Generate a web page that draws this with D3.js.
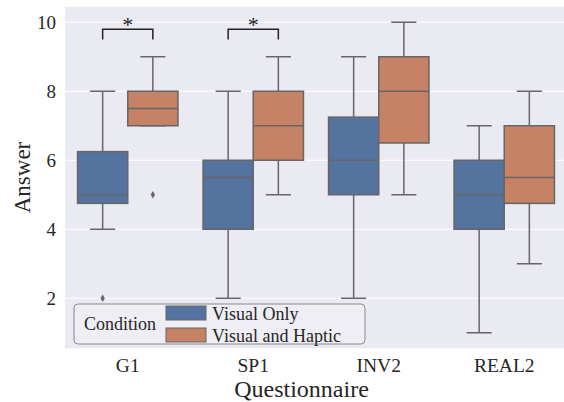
<!DOCTYPE html>
<html>
<head>
<meta charset="utf-8">
<script src="https://cdn.jsdelivr.net/npm/d3@7"></script>
<style>
  html, body { margin: 0; padding: 0; background: #fff; }
  svg { display: block; font-family: "Liberation Serif", "Times New Roman", serif; }
</style>
</head>
<body>
<div id="app"></div>
<script>
// chart values
const categories = ['G1', 'SP1', 'INV2', 'REAL2'];
const conditions = ['Visual Only', 'Visual and Haptic'];
const colors = ['#55739f', '#c58264'];

// Visual Only boxes
const visualLow = [4, 2, 2, 1];
const visualQ1 = [4.75, 4, 5, 4];
const visualMed = [5, 5.5, 6, 5];
const visualQ3 = [6.25, 6, 7.25, 6];
const visualHigh = [8, 8, 9, 7];
const visualOut = [[2], [], [], []];

// Visual and Haptic boxes
const hapticLow = [7, 5, 5, 3];
const hapticQ1 = [7, 6, 6.5, 4.75];
const hapticMed = [7.5, 7, 8, 5.5];
const hapticQ3 = [8, 8, 9, 7];
const hapticHigh = [9, 9, 10, 8];
const hapticOut = [[5], [], [], []];

const yTicks = [2, 4, 6, 8, 10];
const sigCategories = ['G1', 'SP1'];
const sigLow = 9.5, sigHigh = 9.8, sigLabel = '*';

function main() {
  const W = 564, H = 402;
  const left = 65, right = 567, top = 6.7, bottom = 348.3;
  const lineGray = '#666';

  const svg = d3.select('#app').append('svg')
    .attr('width', W).attr('height', H);

  const x = d3.scaleBand().domain(categories).range([left, right]);
  const hue = d3.scaleBand().domain(conditions)
    .range([0.1 * x.bandwidth(), 0.9 * x.bandwidth()]);
  const y = d3.scaleLinear().domain([0.55, 10.45]).range([bottom, top]);

  // background
  svg.append('rect')
    .attr('x', left).attr('y', top)
    .attr('width', right - left).attr('height', bottom - top)
    .attr('fill', '#eaeaf2');

  // grid
  svg.append('g').selectAll('line').data(yTicks).join('line')
    .attr('x1', left).attr('x2', right)
    .attr('y1', d => y(d)).attr('y2', d => y(d))
    .attr('stroke', '#fff').attr('stroke-width', 1.2);

  // y tick labels
  svg.append('g').selectAll('text').data(yTicks).join('text')
    .attr('x', left - 9).attr('y', d => y(d))
    .attr('text-anchor', 'end').attr('dominant-baseline', 'central')
    .attr('font-size', 19).attr('fill', '#262626')
    .text(d => d);

  // x tick labels
  svg.append('g').selectAll('text').data(categories).join('text')
    .attr('x', d => x(d) + x.bandwidth() / 2).attr('y', 372)
    .attr('text-anchor', 'middle')
    .attr('font-size', 19.5).attr('fill', '#262626')
    .text(d => d);

  // axis labels
  svg.append('text')
    .attr('x', 301.5).attr('y', 397)
    .attr('text-anchor', 'middle').attr('font-size', 24).attr('fill', '#262626')
    .text('Questionnaire');
  svg.append('text')
    .attr('transform', `translate(30,${(top + bottom) / 2}) rotate(-90)`)
    .attr('text-anchor', 'middle').attr('font-size', 23).attr('fill', '#262626')
    .text('Answer');

  // box data
  const series = [
    { low: visualLow, q1: visualQ1, med: visualMed, q3: visualQ3, high: visualHigh, out: visualOut },
    { low: hapticLow, q1: hapticQ1, med: hapticMed, q3: hapticQ3, high: hapticHigh, out: hapticOut }
  ];
  const boxes = [];
  series.forEach((s, si) => {
    categories.forEach((c, ci) => {
      boxes.push({ cat: c, cond: conditions[si], color: colors[si],
        low: s.low[ci], q1: s.q1[ci], med: s.med[ci], q3: s.q3[ci], high: s.high[ci], out: s.out[ci] });
    });
  });

  const bw = hue.bandwidth();
  const g = svg.append('g').selectAll('g').data(boxes).join('g')
    .attr('transform', d => `translate(${x(d.cat) + hue(d.cond)},0)`);

  // whiskers
  g.append('line')
    .attr('x1', bw / 2).attr('x2', bw / 2)
    .attr('y1', d => y(d.low)).attr('y2', d => y(d.q1))
    .attr('stroke', lineGray).attr('stroke-width', 1.5);
  g.append('line')
    .attr('x1', bw / 2).attr('x2', bw / 2)
    .attr('y1', d => y(d.q3)).attr('y2', d => y(d.high))
    .attr('stroke', lineGray).attr('stroke-width', 1.5);
  // caps
  g.append('line')
    .attr('x1', bw / 4).attr('x2', bw * 3 / 4)
    .attr('y1', d => y(d.low)).attr('y2', d => y(d.low))
    .attr('stroke', lineGray).attr('stroke-width', 1.5);
  g.append('line')
    .attr('x1', bw / 4).attr('x2', bw * 3 / 4)
    .attr('y1', d => y(d.high)).attr('y2', d => y(d.high))
    .attr('stroke', lineGray).attr('stroke-width', 1.5);
  // box
  g.append('rect')
    .attr('x', 0).attr('width', bw)
    .attr('y', d => y(d.q3)).attr('height', d => y(d.q1) - y(d.q3))
    .attr('fill', d => d.color)
    .attr('stroke', lineGray).attr('stroke-width', 1.5);
  // median
  g.append('line')
    .attr('x1', 0).attr('x2', bw)
    .attr('y1', d => y(d.med)).attr('y2', d => y(d.med))
    .attr('stroke', lineGray).attr('stroke-width', 1.5);
  // outliers
  g.selectAll('path.out').data(d => d.out).join('path')
    .attr('class', 'out')
    .attr('transform', v => `translate(${bw / 2},${y(v)})`)
    .attr('d', d3.symbol(d3.symbolDiamond, 16))
    .attr('fill', lineGray);

  // significance brackets
  const sig = svg.append('g').selectAll('g').data(sigCategories).join('g');
  sig.append('path')
    .attr('d', c => {
      const x1 = x(c) + hue(conditions[0]) + bw / 2;
      const x2 = x(c) + hue(conditions[1]) + bw / 2;
      return `M${x1},${y(sigLow)}V${y(sigHigh)}H${x2}V${y(sigLow)}`;
    })
    .attr('fill', 'none').attr('stroke', '#222').attr('stroke-width', 1.5);
  sig.append('text')
    .attr('x', c => x(c) + x.bandwidth() / 2)
    .attr('y', y(sigHigh) + 3)
    .attr('text-anchor', 'middle').attr('font-size', 22).attr('fill', '#222')
    .text(sigLabel);

  // legend
  const leg = svg.append('g');
  leg.append('rect')
    .attr('x', 74).attr('y', 304).attr('width', 291).attr('height', 40)
    .attr('rx', 4)
    .attr('fill', '#eeeef4').attr('stroke', '#8a8a8a').attr('stroke-width', 1);
  leg.append('text')
    .attr('x', 84).attr('y', 330)
    .attr('font-size', 18).attr('fill', '#262626')
    .text('Condition');
  const item = leg.selectAll('g').data(conditions).join('g')
    .attr('transform', (d, i) => `translate(166,${306 + i * 22})`);
  item.append('rect')
    .attr('width', 40).attr('height', 14)
    .attr('fill', (d, i) => colors[i])
    .attr('stroke', lineGray).attr('stroke-width', 1);
  item.append('text')
    .attr('x', 46).attr('y', 13.5)
    .attr('font-size', 18).attr('fill', '#262626')
    .text(d => d);
}

main();
</script>
</body>
</html>
